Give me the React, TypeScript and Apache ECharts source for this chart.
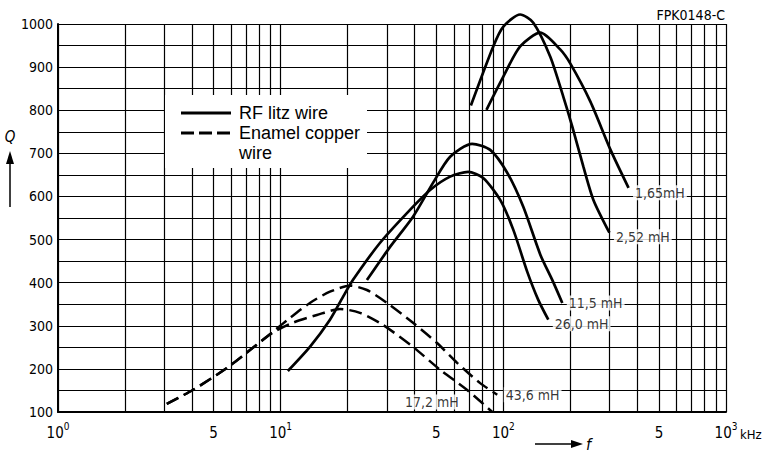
import React, { useEffect, useRef } from "react";
import * as echarts from "echarts";

const NARROW = '"Liberation Sans Narrow", "DejaVu Sans Condensed", "Arial Narrow", sans-serif';
const SANS = '"Liberation Sans", Arial, sans-serif';

// RF litz wire — frequency f in kHz, quality factor Q
const f165 = [84, 100, 119, 146.6, 180, 200, 246, 303, 365];
const q165 = [801, 878, 948, 980, 941, 908, 820, 708, 620];

const f252 = [71.5, 90.1, 100, 119, 136.3, 162.5, 186, 204, 228.8, 253.8, 299.5];
const q252 = [811, 948, 994, 1022, 1003, 924, 831, 762, 669, 592, 516];

const f115 = [24.4, 31.0, 39.3, 48.4, 57.7, 72.4, 87.3, 104.1, 122.9, 146.6, 166, 184];
const q115 = [406, 483, 553, 632, 692, 722, 708, 655, 576, 465, 406, 353];

const f260 = [10.77, 13.53, 16.65, 19.05, 21.1, 27.9, 37.0, 46.9, 57.7, 69.5, 81.2, 96.8, 110.8, 128.1, 143.5, 159.2];
const q260 = [195, 251, 314, 367, 406, 492, 562, 615, 646, 657, 643, 592, 523, 425, 360, 314];

// Enamel copper wire
const f436 = [3.08, 4.03, 5.73, 7.5, 9.22, 11.0, 13.53, 16.65, 20.48, 24.4, 30.04, 39.3, 50.4, 62.0, 78.7, 93.9];
const q436 = [119, 151, 202, 249, 286, 318, 353, 379, 393, 383, 353, 307, 260, 214, 167, 140];

const f172 = [3.08, 4.03, 5.73, 7.5, 9.22, 11.34, 14.55, 18.46, 22.7, 28.8, 39.3, 52.0, 68.8, 89.2];
const q172 = [119, 151, 202, 249, 284, 307, 325, 339, 330, 302, 251, 198, 151, 100];

// Log grid: intermediate frequencies inside each decade
const minorFreqs = [2, 3, 4, 5, 6, 7, 8, 9, 20, 30, 40, 50, 60, 70, 80, 90, 200, 300, 400, 500, 600, 700, 800, 900];
const labelledMinor = [5, 50, 500];

const pairs = (f: number[], q: number[]) => f.map((v, i) => [v, q[i]]);
const last = (a: number[]) => a[a.length - 1];

const curves = [
  { name: "1,65 mH", tag: "1,65mH", f: f165, q: q165, dashed: false },
  { name: "2,52 mH", tag: "2,52 mH", f: f252, q: q252, dashed: false },
  { name: "11,5 mH", tag: "11,5 mH", f: f115, q: q115, dashed: false },
  { name: "26,0 mH", tag: "26,0 mH", f: f260, q: q260, dashed: false },
  { name: "43,6 mH", tag: "43,6 mH", f: f436, q: q436, dashed: true },
  { name: "17,2 mH", tag: "17,2 mH", f: f172, q: q172, dashed: true },
];

// where each curve's name sits relative to its end point
const tagPlacement: Record<string, { position: string; offset: number[] }> = {
  "1,65 mH": { position: "right", offset: [0, 5] },
  "2,52 mH": { position: "right", offset: [0, 4] },
  "11,5 mH": { position: "right", offset: [0, 0] },
  "26,0 mH": { position: "right", offset: [0, 4] },
  "43,6 mH": { position: "right", offset: [2, 0] },
  "17,2 mH": { position: "left", offset: [-27, -10] },
};

const INK = "#000";

function buildOption() {
  const lineSeries = curves.map((c) => ({
    type: "line",
    name: c.name,
    data: pairs(c.f, c.q),
    smooth: 0.25,
    symbol: "none",
    showSymbol: false,
    silent: true,
    clip: false,
    z: 3,
    lineStyle: {
      color: INK,
      width: c.dashed ? 2.5 : 2.7,
      type: c.dashed ? [13, 6] : "solid",
    },
  }));

  const gridSeries = {
    type: "line",
    name: "grid",
    data: [],
    silent: true,
    z: 1,
    markLine: {
      silent: true,
      symbol: ["none", "none"],
      animation: false,
      lineStyle: { color: INK, width: 1.2, type: "solid" },
      emphasis: { disabled: true },
      label: { show: false },
      data: minorFreqs.map((v) => ({
        xAxis: v,
        label: labelledMinor.includes(v)
          ? {
              show: true,
              position: "start",
              distance: 13,
              formatter: "5",
              color: INK,
              fontSize: 15,
              fontFamily: NARROW,
            }
          : { show: false },
      })),
    },
  };

  const tagSeries = {
    type: "scatter",
    name: "tags",
    silent: true,
    z: 5,
    symbolSize: 1,
    itemStyle: { color: "rgba(0,0,0,0)" },
    data: curves.map((c) => ({
      value: [last(c.f), last(c.q)],
      label: {
        show: true,
        formatter: c.tag,
        distance: 4,
        color: INK,
        fontSize: 14,
        fontFamily: NARROW,
        backgroundColor: "#fff",
        padding: [1, 2, 0, 2],
        position: tagPlacement[c.name].position,
        offset: tagPlacement[c.name].offset,
      },
    })),
  };

  const fg = (el: any) => ({ ...el, z: 100, zlevel: 0 });

  return {
    animation: false,
    backgroundColor: "#fff",
    grid: { left: 58, right: 38, top: 24, bottom: 45 },
    xAxis: {
      type: "log",
      logBase: 10,
      min: 1,
      max: 1000,
      axisLine: { show: true, onZero: false, lineStyle: { color: INK, width: 2 } },
      axisTick: { show: false },
      minorTick: { show: false },
      splitLine: { show: true, lineStyle: { color: INK, width: 1.2 } },
      axisLabel: {
        margin: 9,
        color: INK,
        formatter: (v: number) => `{b|10}{s|${Math.round(Math.log10(v))}}`,
        rich: {
          b: { fontSize: 15, fontFamily: NARROW, color: INK, lineHeight: 24 },
          s: { fontSize: 10, fontFamily: NARROW, color: INK, lineHeight: 12, verticalAlign: "top" },
        },
      },
    },
    yAxis: {
      type: "value",
      min: 100,
      max: 1000,
      interval: 50,
      axisLine: { show: true, lineStyle: { color: INK, width: 2 } },
      axisTick: { show: false },
      splitLine: { show: true, lineStyle: { color: INK, width: 1.2 } },
      axisLabel: {
        margin: 5,
        color: INK,
        fontSize: 14,
        fontFamily: NARROW,
        formatter: (v: number) => (v % 100 === 0 ? String(v) : ""),
      },
    },
    series: [gridSeries, ...lineSeries, tagSeries],
    graphic: [
      // legend panel
      fg({ type: "rect", shape: { x: 165, y: 95, width: 202, height: 73 }, style: { fill: "#fff" } }),
      fg({ type: "line", shape: { x1: 181, y1: 113, x2: 231, y2: 113 }, style: { stroke: INK, lineWidth: 3 } }),
      fg({
        type: "line",
        shape: { x1: 181, y1: 133, x2: 231, y2: 133 },
        style: { stroke: INK, lineWidth: 3, lineDash: [13, 5] },
      }),
      fg({
        type: "text",
        x: 239,
        y: 113,
        style: { text: "RF litz wire", fill: INK, fontSize: 18, fontFamily: SANS, verticalAlign: "middle" },
      }),
      fg({
        type: "text",
        x: 239,
        y: 123,
        style: {
          text: "Enamel copper\nwire",
          fill: INK,
          fontSize: 18,
          fontFamily: SANS,
          lineHeight: 20,
          verticalAlign: "top",
        },
      }),
      // drawing number
      fg({
        type: "text",
        x: 725,
        y: 15,
        style: { text: "FPK0148-C", fill: INK, fontSize: 14, fontFamily: NARROW, align: "right", verticalAlign: "middle" },
      }),
      // frequency unit
      fg({
        type: "text",
        x: 740,
        y: 434,
        style: { text: "kHz", fill: INK, fontSize: 13, fontFamily: NARROW, verticalAlign: "middle" },
      }),
      // Q axis arrow
      fg({
        type: "text",
        x: 10,
        y: 137,
        style: { text: "Q", fill: INK, fontSize: 15, fontStyle: "italic", fontFamily: NARROW, align: "center", verticalAlign: "middle" },
      }),
      fg({ type: "line", shape: { x1: 10, y1: 207, x2: 10, y2: 160 }, style: { stroke: INK, lineWidth: 1.5 } }),
      fg({ type: "polygon", shape: { points: [[6, 164], [14, 164], [10, 151]] }, style: { fill: INK } }),
      // f axis arrow
      fg({ type: "line", shape: { x1: 535, y1: 444, x2: 574, y2: 444 }, style: { stroke: INK, lineWidth: 1.5 } }),
      fg({ type: "polygon", shape: { points: [[571, 440], [571, 448], [583, 444]] }, style: { fill: INK } }),
      fg({
        type: "text",
        x: 586,
        y: 444,
        style: { text: "f", fill: INK, fontSize: 16, fontStyle: "italic", fontFamily: NARROW, verticalAlign: "middle" },
      }),
    ],
  };
}

export default function App() {
  const ref = useRef<HTMLDivElement>(null);
  useEffect(() => {
    if (!ref.current) return;
    const chart = echarts.init(ref.current, null, { renderer: "svg" });
    chart.setOption(buildOption() as any);
    return () => chart.dispose();
  }, []);
  return <div ref={ref} style={{ position: "absolute", left: 0, top: 0, width: 764, height: 457 }} />;
}
